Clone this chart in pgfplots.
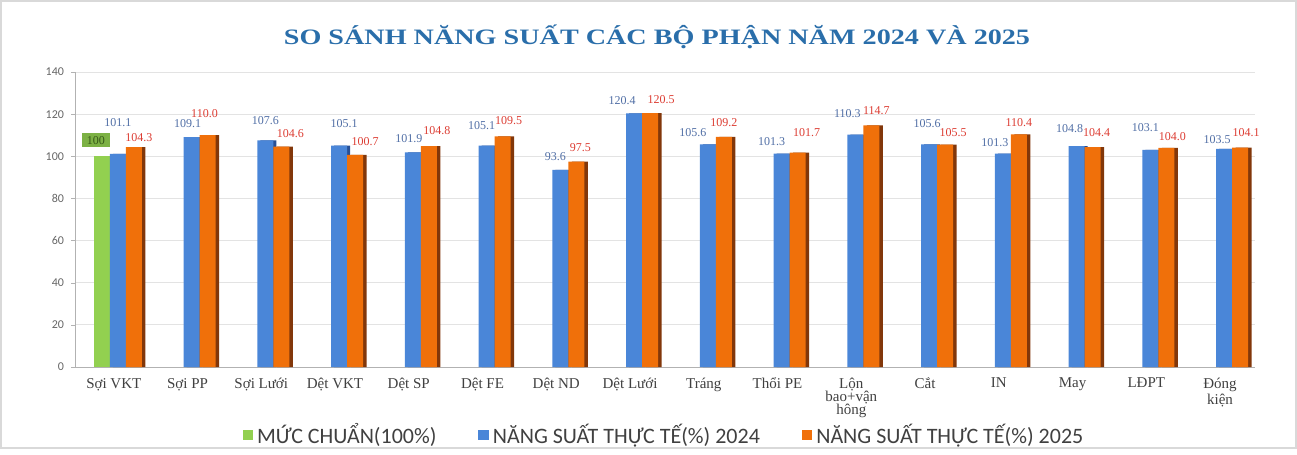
\documentclass[border=0pt]{standalone}
\usepackage{pgfplots}
\usepackage{pgfplotstable}
\pgfplotsset{compat=1.18}
\usepackage{fontspec}
\setmainfont{Liberation Serif}
\newfontfamily\legfont{Carlito}
\definecolor{cgreen}{RGB}{146,208,80}
\definecolor{cgreenD}{RGB}{90,145,40}
\definecolor{cblue}{RGB}{74,134,216}
\definecolor{cblueD}{RGB}{40,80,150}
\definecolor{corange}{RGB}{240,112,10}
\definecolor{corangeD}{RGB}{130,55,10}
\definecolor{ctitle}{RGB}{42,110,170}
\definecolor{cbluelab}{RGB}{80,110,165}
\definecolor{credlab}{RGB}{220,60,50}
\definecolor{ctext}{RGB}{64,64,64}
% x = category, y = value, dx/dy = label offset (pt)
\pgfplotstableread{
x y dx dy
0 101.1 0 15.5
1 109.1 -2 7
2 107.6 0 10
3 105.1 2.5 11
4 101.9 -2 7
5 105.1 -2.5 10
6 93.6 -2.5 6.5
7 120.4 -6 6.5
8 105.6 -7.5 6
9 101.3 -5 6
10 110.3 -4 10.5
11 105.6 -1 10.5
12 101.3 -4 5.5
13 104.8 -3.5 9
14 103.1 -2.5 11
15 103.5 -3.5 4.5
}\bluedata
\pgfplotstableread{
x y dx dy
0 104.3 2.5 5
1 110.0 -1.5 11
2 104.6 4.5 6.5
3 100.7 5 6.5
4 104.8 4 8
5 109.5 3 8
6 97.5 2 7
7 120.5 5.5 6.5
8 109.2 0 7
9 101.7 4.5 10
10 114.7 2.5 7.5
11 105.5 4 6
12 110.4 0 6
13 104.4 2 7
14 104.0 3 5.5
15 104.1 3 7.5
}\orangedata
\begin{document}
\begin{tikzpicture}[x=1pt,y=1pt]
\draw[gray!30, line width=1pt] (0.5,0.5) rectangle (648,224);
\node[font=\bfseries\fontsize{11}{13}\selectfont, text=ctitle] at (328.5,206) {\scalebox{1.28}[1]{SO SÁNH NĂNG SUẤT CÁC BỘ PHẬN NĂM 2024 VÀ 2025}};
\begin{axis}[
  at={(37.5pt,41pt)}, anchor=south west,
  width=590pt, height=147.5pt, scale only axis,
  xmin=-0.58, xmax=15.42, ymin=0, ymax=140,
  ytick={0,20,...,140},
  xtick={0,...,15},
  xticklabels={Sợi VKT,Sợi PP,Sợi Lưới,Dệt VKT,Dệt SP,Dệt FE,Dệt ND,Dệt Lưới,Tráng,Thổi PE,Lộn\\bao+vận\\hông,Cắt,IN,May,LĐPT,Đóng\\kiện},
  xticklabel style={align=center, font=\fontsize{7.5}{6.6}\selectfont, text=ctext, xshift=-2pt},
  yticklabel style={font=\legfont\fontsize{6}{7}\selectfont, text=gray!80!black},
  /pgf/number format/assume math mode=true,
  axis x line=bottom, axis y line=left,
  axis line style={-, gray!60},
  x tick style={draw=none},
  y tick style={gray!60},
  tick align=outside, major tick length=2pt,
  ymajorgrids, grid style={gray!22},
  legend style={at={(0.5,-0.23)}, anchor=center, draw=none, fill=none,
    legend columns=3, font=\legfont\fontsize{11}{12}\selectfont, text=ctext,
    /tikz/column 2/.style={column sep=19pt},
    /tikz/column 4/.style={column sep=19pt}},
  legend image code/.code={\fill[#1, draw=none] (0pt,-2.6pt) rectangle (5.2pt,2.6pt);},
]
% green shadow
\addplot[ybar, bar width=8pt, bar shift=-6.5pt, fill=cgreenD, draw=none, forget plot] coordinates {(0,100)};
\addplot[ybar, bar width=8pt, bar shift=-8pt, fill=cgreen, draw=none,
  nodes near coords, nodes near coords style={font=\fontsize{6}{6}\selectfont, text=cgreenD!60!black, fill=cgreen!85!black, anchor=center, xshift=-11pt, yshift=8pt, inner sep=1pt, minimum width=14pt, minimum height=7pt},
  /pgf/number format/.cd, fixed, precision=0] coordinates {(0,100)};
% blue shadow
\addplot[ybar, bar width=8pt, bar shift=1.5pt, fill=cblueD, draw=none, forget plot] table[x=x,y=y] {\bluedata};
\addplot[ybar, bar width=8pt, bar shift=0pt, fill=cblue, draw=none,
  visualization depends on={\thisrow{dx} \as \labdx},
  visualization depends on={\thisrow{dy} \as \labdy},
  nodes near coords, nodes near coords style={font=\fontsize{6}{6}\selectfont, text=cbluelab, anchor=center, xshift={\labdx*1pt}, yshift={\labdy*1pt}},
  /pgf/number format/.cd, fixed, fixed zerofill, precision=1] table[x=x,y=y] {\bluedata};
% orange shadow
\addplot[ybar, bar width=8pt, bar shift=9.8pt, fill=corangeD, draw=none, forget plot] table[x=x,y=y] {\orangedata};
\addplot[ybar, bar width=8pt, bar shift=8pt, fill=corange, draw=none,
  visualization depends on={\thisrow{dx} \as \labdx},
  visualization depends on={\thisrow{dy} \as \labdy},
  nodes near coords, nodes near coords style={font=\fontsize{6}{6}\selectfont, text=credlab, anchor=center, xshift={\labdx*1pt+8pt}, yshift={\labdy*1pt}},
  /pgf/number format/.cd, fixed, fixed zerofill, precision=1] table[x=x,y=y] {\orangedata};
\legend{MỨC CHUẨN(100\%),NĂNG SUẤT THỰC TẾ(\%) 2024,NĂNG SUẤT THỰC TẾ(\%) 2025}
\end{axis}
\end{tikzpicture}
\end{document}
